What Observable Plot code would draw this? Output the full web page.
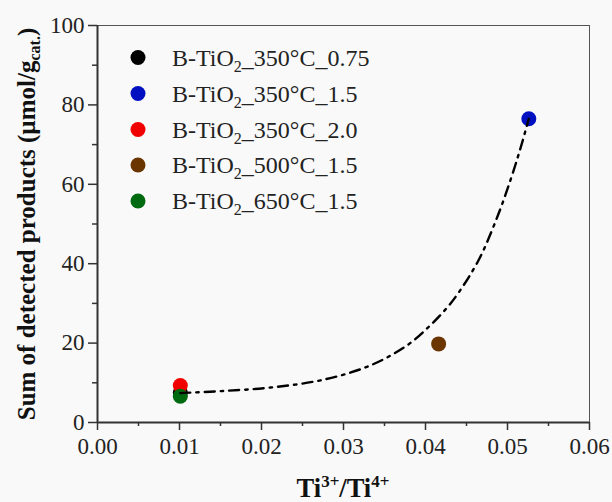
<!DOCTYPE html>
<html><head><meta charset="utf-8">
<script src="https://cdn.jsdelivr.net/npm/d3@7"></script>
<script src="https://cdn.jsdelivr.net/npm/@observablehq/plot@0.6"></script>
<style>
html,body{margin:0;padding:0;background:#f9f9f9;}
svg{display:block;}
#chart svg, #chart svg text, #chart svg tspan{font-family:"Liberation Serif","Times New Roman",serif !important;}
</style></head><body><div id="chart"></div>
<script>
// ---- data ----
const samplePrefix = ["B-TiO", "B-TiO", "B-TiO", "B-TiO", "B-TiO"];
const sampleSub = ["2", "2", "2", "2", "2"];
const sampleSuffix = ["_350°C_0.75", "_350°C_1.5", "_350°C_2.0", "_500°C_1.5", "_650°C_1.5"];
const ratio = [0.0101, 0.0526, 0.0101, 0.0416, 0.0101];
const products = [7.5, 76.5, 9.3, 19.8, 6.6];
const colors = ["#000000", "#0010c0", "#f00000", "#6b3500", "#006a10"];

// fitted curve
const fitX = [0.0101, 0.0150, 0.0211, 0.0276, 0.0333, 0.0378, 0.0406, 0.0427, 0.0440, 0.0465, 0.0488, 0.0504, 0.0516, 0.0526];
const fitY = [7.4, 7.9, 8.8, 10.8, 14.4, 19.5, 24.5, 29.1, 32.6, 41.0, 52.0, 61.3, 69.2, 76.5];

const xMajor = [0, 0.01, 0.02, 0.03, 0.04, 0.05, 0.06];
const xMinor = [0.005, 0.015, 0.025, 0.035, 0.045, 0.055];
const yMajor = [0, 20, 40, 60, 80, 100];
const yMinor = [10, 30, 50, 70, 90];

const points = ratio.map((r, i) => ({x: r, y: products[i], c: colors[i]}));
const fit = fitX.map((x, i) => ({x, y: fitY[i]}));

const W = 612, H = 502;
const mL = 97, mR = 23, mT = 25, mB = 80;

const chart = Plot.plot({
  width: W, height: H,
  marginLeft: mL, marginRight: mR, marginTop: mT, marginBottom: mB,
  style: {fontFamily: "Liberation Serif", fontSize: "23px", background: "#f9f9f9", color: "#222"},
  x: {domain: [0, 0.06], label: null},
  y: {domain: [0, 100], label: null},
  marks: [
    Plot.frame({stroke: "#555", strokeWidth: 1}),
    Plot.axisX({ticks: xMajor, tickSize: 8, tickPadding: 7, fontSize: 23, tickFormat: d3.format(".2f"), stroke: "#333", strokeWidth: 1.5, label: null}),
    Plot.axisX({ticks: xMinor, tickSize: 4, tickFormat: () => "", stroke: "#333", strokeWidth: 1.5, label: null}),
    Plot.axisY({ticks: yMajor, tickSize: 9, tickPadding: 4, fontSize: 23, stroke: "#333", strokeWidth: 1.5, label: null}),
    Plot.axisY({ticks: yMinor, tickSize: 5, tickFormat: () => "", stroke: "#333", strokeWidth: 1.5, label: null}),
    Plot.ruleX([0], {stroke: "#333", strokeWidth: 2}),
    Plot.ruleY([0], {stroke: "#333", strokeWidth: 2}),
    Plot.dot(points, {x: "x", y: "y", fill: "c", r: 7.5}),
    Plot.line(fit, {x: "x", y: "y", curve: "catmull-rom", stroke: "#000", strokeWidth: 2.4, strokeDasharray: "10,6,2.5,6"})
  ]
});

const svg = d3.select(chart);

// legend
const lg = svg.append("g").attr("font-size", 24).attr("fill", "#222").attr("text-anchor", "start");
const rowY = [57.5, 93.5, 129.5, 165, 201];
sampleSuffix.forEach((s, i) => {
  lg.append("circle").attr("cx", 138).attr("cy", rowY[i]).attr("r", 7.5).attr("fill", colors[i]);
  const t = lg.append("text").attr("x", 172).attr("y", rowY[i] + 8.3);
  t.append("tspan").text(samplePrefix[i]);
  t.append("tspan").attr("dy", 6).attr("font-size", 16).text(sampleSub[i]);
  t.append("tspan").attr("dy", -6).text(s);
});

// y label
const yl = svg.append("text")
  .attr("transform", "translate(35,224) rotate(-90)")
  .attr("text-anchor", "middle")
  .attr("font-weight", "bold").attr("font-size", 25).attr("fill", "#111");
yl.append("tspan").text("Sum of detected products (µmol/g");
yl.append("tspan").attr("dy", 5).attr("font-size", 16).text("cat.");
yl.append("tspan").attr("dy", -5).text(")");

// x label
const xl = svg.append("text")
  .attr("x", 343).attr("y", 497)
  .attr("text-anchor", "middle")
  .attr("font-weight", "bold").attr("font-size", 26.5).attr("fill", "#111");
xl.append("tspan").text("Ti");
xl.append("tspan").attr("dy", -10).attr("font-size", 17).text("3+");
xl.append("tspan").attr("dy", 10).text("/Ti");
xl.append("tspan").attr("dy", -10).attr("font-size", 17).text("4+");

document.getElementById("chart").append(chart);
</script></body></html>
